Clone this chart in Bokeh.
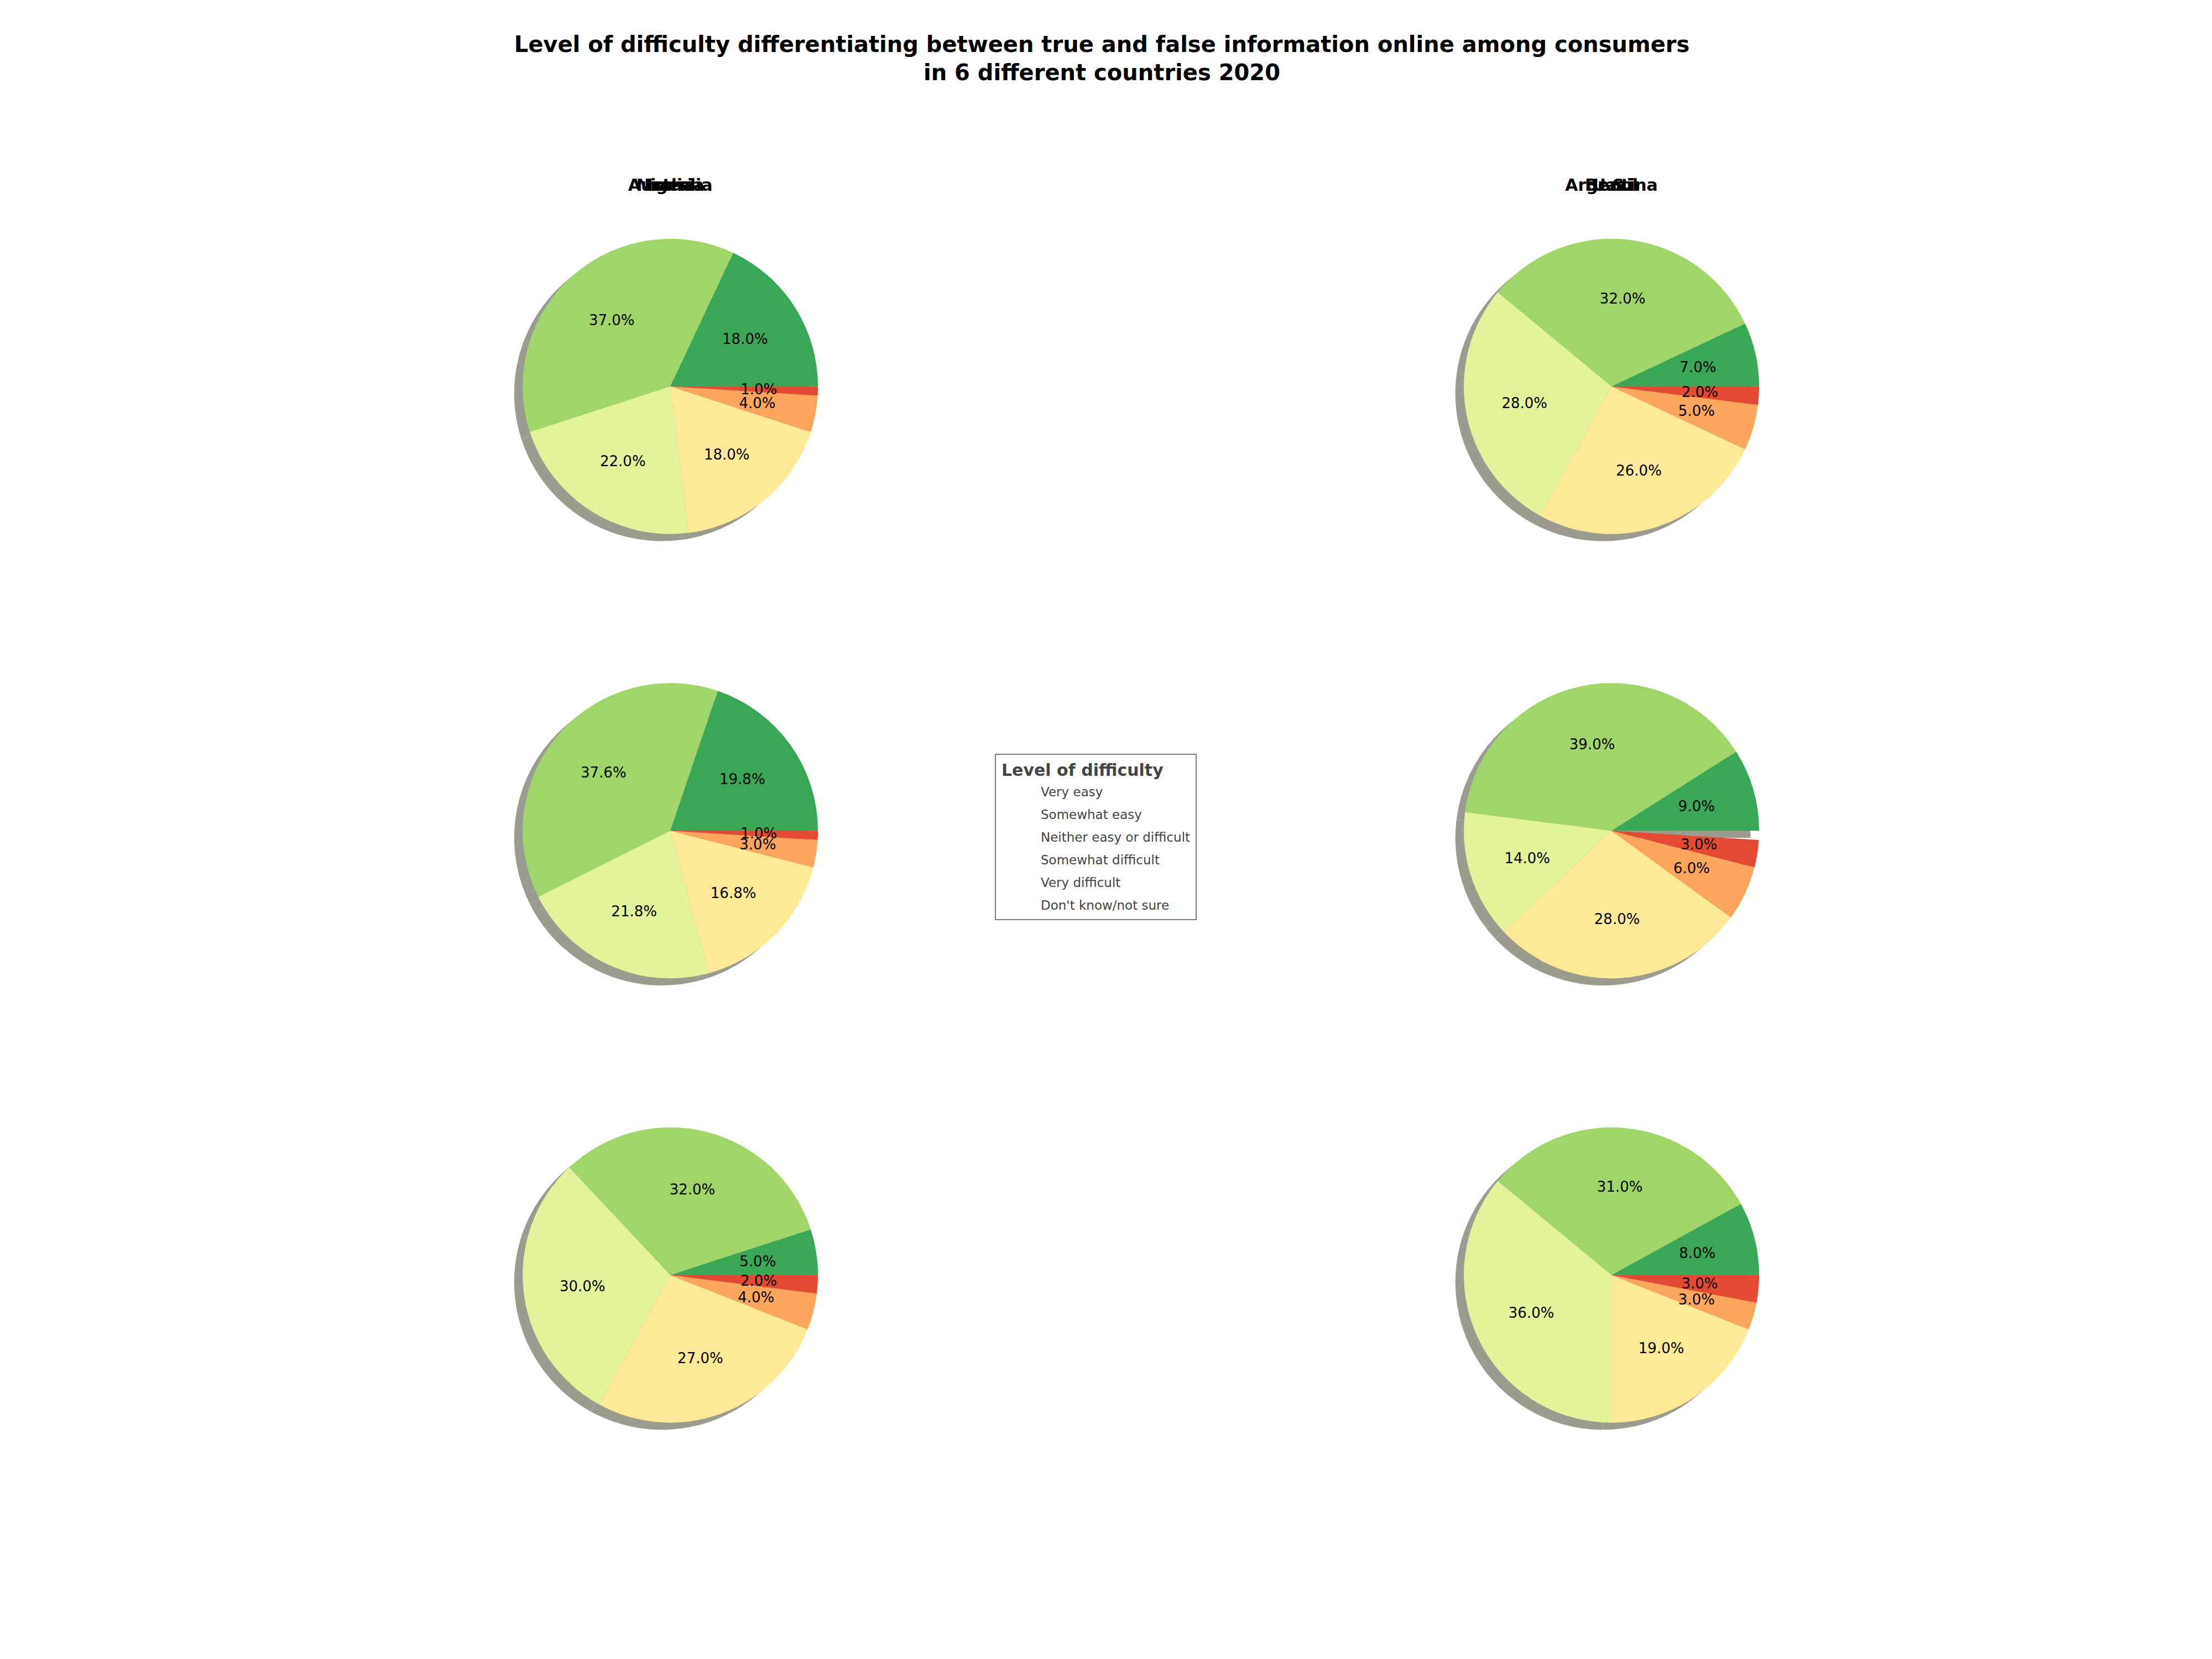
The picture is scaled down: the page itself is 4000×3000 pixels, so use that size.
import numpy as np
from bokeh.plotting import figure
from bokeh.models import Legend, LegendItem, Title
from bokeh.core.properties import value
from bokeh.embed import file_html
from bokeh.resources import INLINE

levels = ["Very easy", "Somewhat easy", "Neither easy or difficult",
          "Somewhat difficult", "Very difficult", "Don't know/not sure"]
colors = ["#3aa757", "#a0d669", "#e3f399", "#fee999", "#fca55d", "#e34933"]
countries = ["India", "U.S.", "Nigeria", "Brazil", "Australia", "Argentina"]
india = [18.0, 37.0, 22.0, 18.0, 4.0, 1.0]
us = [7.0, 32.0, 28.0, 26.0, 5.0, 2.0]
nigeria = [19.8, 37.6, 21.8, 16.8, 3.0, 1.0]
brazil = [9.0, 39.0, 14.0, 28.0, 6.0, 3.0]
australia = [5.0, 32.0, 30.0, 27.0, 4.0, 2.0]
argentina = [8.0, 31.0, 36.0, 19.0, 3.0, 3.0]
shares = [india, us, nigeria, brazil, australia, argentina]

W, H = 1552, 1164
S = 3984 / W
FONT = "DejaVu Sans"
centers = [(472, 272), (1135, 272), (472, 585), (1135, 585), (472, 898), (1135, 898)]
R = 104

p = figure(width=3984, height=2988, x_range=(0, W), y_range=(0, H),
           output_backend="svg", toolbar_location=None, min_border=0)
p.axis.visible = False
p.grid.visible = False
p.outline_line_color = None

for (cx, cy), vals, name in zip(centers, shares, countries):
    y = H - cy
    fr = np.array(vals) / 100.0
    ends = np.cumsum(fr) * 2 * np.pi
    starts = ends - fr * 2 * np.pi
    p.wedge(x=cx - 6, y=y - 5, radius=R, start_angle=list(starts), end_angle=list(ends),
            fill_color="#9c9c8e", line_color=None)
    p.wedge(x=cx, y=y, radius=R, start_angle=list(starts), end_angle=list(ends),
            fill_color=colors, line_color=None)
    mids = (starts + ends) / 2
    p.text(x=list(cx + 0.6 * R * np.cos(mids)), y=list(y + 0.6 * R * np.sin(mids)),
           text=[f"{v:.1f}%" for v in vals], text_align="center", text_baseline="middle",
           text_font=value(FONT), text_font_size=f"{10 * S:.0f}px", text_color="black")
    p.text(x=[cx], y=[H - 130], text=[name], text_align="center", text_baseline="middle",
           text_font=value(FONT), text_font_style="bold", text_font_size=f"{11.5 * S:.0f}px")
    p.text(x=[cx], y=[y + 1 - 0], text=[""])

for cy in (585, 898):
    pass

p.text(x=[W / 2], y=[H - 31], text=["Level of difficulty differentiating between true and false information online among consumers"],
       text_align="center", text_baseline="middle", text_font=value(FONT),
       text_font_style="bold", text_font_size=f"{15.5 * S:.0f}px")
p.text(x=[W / 2], y=[H - 51], text=["in 6 different countries 2020"],
       text_align="center", text_baseline="middle", text_font=value(FONT),
       text_font_style="bold", text_font_size=f"{15.5 * S:.0f}px")

items = []
for lvl, c in zip(levels, colors):
    r = p.quad(left=[], right=[], top=[], bottom=[], fill_color=c, line_color=None)
    items.append(LegendItem(label=lvl, renderers=[r]))
legend = Legend(items=items, location=(int(701 * S), int((H - 648) * S)),
                title="Level of difficulty", title_text_font=FONT, title_text_font_style="bold",
                title_text_font_size=f"{11.5 * S:.0f}px", label_text_font=FONT,
                label_text_font_size=f"{9 * S:.0f}px", glyph_width=int(20 * S),
                glyph_height=int(8 * S), label_height=int(12 * S), spacing=int(4.5 * S),
                padding=int(4 * S), margin=0, border_line_color="black",
                border_line_width=2, title_standoff=int(3 * S), label_standoff=int(8 * S))
p.add_layout(legend, "center")

open("out.html", "w").write(file_html(p, INLINE))
